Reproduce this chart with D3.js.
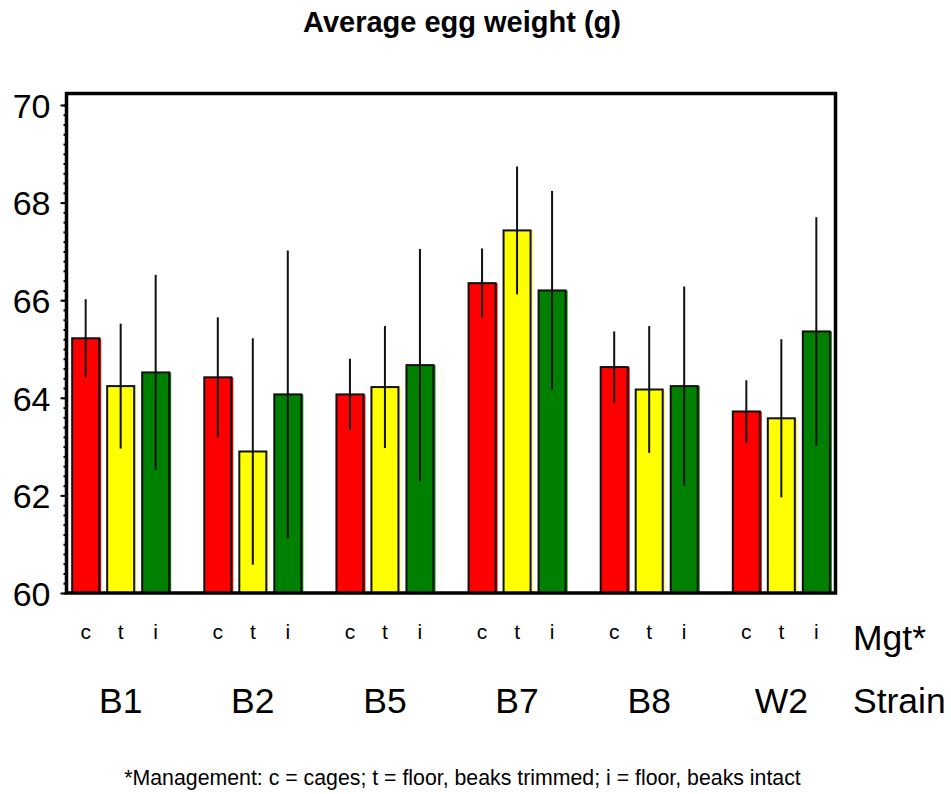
<!DOCTYPE html>
<html>
<head>
<meta charset="utf-8">
<script src="https://cdn.jsdelivr.net/npm/d3@7"></script>
<style>
  html, body { margin: 0; padding: 0; background: #fff; }
  svg { display: block; font-family: "Liberation Sans", Arial, Helvetica, sans-serif; }
</style>
</head>
<body>
<svg id="chart" width="951" height="794"></svg>
<script>
// ---- data ----
const strains = ["B1", "B2", "B5", "B7", "B8", "W2"];
const mgts = ["c", "t", "i"];
const mgtColors = ["#ff0000", "#ffff00", "#008000"];
const meanC = [65.22, 64.42, 64.07, 66.35, 64.63, 63.72];
const meanT = [64.24, 62.90, 64.22, 67.43, 64.17, 63.58];
const meanI = [64.52, 64.07, 64.67, 66.20, 64.24, 65.36];
const errC = [0.80, 1.23, 0.73, 0.71, 0.73, 0.64];
const errT = [1.28, 2.32, 1.25, 1.31, 1.30, 1.62];
const errI = [2.00, 2.95, 2.38, 2.04, 2.04, 2.34];
const yTicks = [60, 62, 64, 66, 68, 70];
const titleText = "Average egg weight (g)";
const mgtAxisLabel = "Mgt*";
const strainAxisLabel = "Strain";
const footnote = "*Management: c = cages; t = floor, beaks trimmed; i = floor, beaks intact";

const means = { c: meanC, t: meanT, i: meanI };
const errs = { c: errC, t: errT, i: errI };
const rows = [];
strains.forEach((s, si) => mgts.forEach((m, mi) => rows.push({
  strain: s, mgt: m, color: mgtColors[mi], mean: means[m][si], err: errs[m][si]
})));

// ---- layout ----
const frame = { left: 66.5, right: 835.5, top: 93.5, bottom: 593 };
const svg = d3.select("#chart");

const y = d3.scaleLinear().domain([60, 70]).range([593, 105]);
const xGroup = d3.scalePoint().domain(strains).range([frame.left, frame.right]).padding(0.41);
const xMgt = d3.scalePoint().domain(mgts).range([-35, 35]);
const barW = 27;

// title
svg.append("text")
  .attr("x", 462).attr("y", 32)
  .attr("text-anchor", "middle")
  .attr("font-size", 29).attr("font-weight", "bold")
  .text(titleText);

// bars: fill (slightly offset) then outline
const bars = svg.append("g");
bars.selectAll("rect.fill").data(rows).join("rect")
  .attr("class", "fill")
  .attr("x", d => xGroup(d.strain) + xMgt(d.mgt) - barW / 2)
  .attr("y", d => y(d.mean))
  .attr("width", barW + 2)
  .attr("height", d => y(60) - y(d.mean))
  .attr("fill", d => d.color);
bars.selectAll("rect.outline").data(rows).join("rect")
  .attr("class", "outline")
  .attr("x", d => xGroup(d.strain) + xMgt(d.mgt) - barW / 2)
  .attr("y", d => y(d.mean))
  .attr("width", barW)
  .attr("height", d => y(60) - y(d.mean))
  .attr("fill", "none")
  .attr("stroke", "#111")
  .attr("stroke-width", 2);

// error bars
svg.append("g").selectAll("line").data(rows).join("line")
  .attr("x1", d => xGroup(d.strain) + xMgt(d.mgt))
  .attr("x2", d => xGroup(d.strain) + xMgt(d.mgt))
  .attr("y1", d => y(d.mean - d.err))
  .attr("y2", d => y(d.mean + d.err))
  .attr("stroke", "#111")
  .attr("stroke-width", 2);

// y axis minor ticks
const minor = d3.range(60, 70.001, 0.2).map(v => +v.toFixed(1));
const yAxisMinor = d3.axisLeft(y).tickValues(minor).tickSize(3).tickFormat("");
svg.append("g").attr("transform", `translate(${frame.left},0)`).call(yAxisMinor)
  .call(g => g.select(".domain").remove())
  .call(g => g.selectAll("line").attr("stroke", "#000").attr("stroke-width", 2));
// y axis major
const yAxis = d3.axisLeft(y).tickValues(yTicks).tickSize(6).tickPadding(10).tickFormat(d3.format("d"));
svg.append("g").attr("transform", `translate(${frame.left},0)`).call(yAxis)
  .call(g => g.select(".domain").remove())
  .call(g => g.selectAll("line").attr("stroke", "#000").attr("stroke-width", 2))
  .call(g => g.selectAll("text")
    .attr("font-size", 34)
    .attr("font-family", "Liberation Sans, Arial, sans-serif")
    .attr("fill", "#000")
    .attr("dy", "0.36em"));

// frame
svg.append("rect")
  .attr("x", frame.left).attr("y", frame.top)
  .attr("width", frame.right - frame.left)
  .attr("height", frame.bottom - frame.top)
  .attr("fill", "none").attr("stroke", "#000").attr("stroke-width", 3.5);

// mgt labels
svg.append("g").selectAll("text").data(rows).join("text")
  .attr("x", d => xGroup(d.strain) + xMgt(d.mgt))
  .attr("y", 639)
  .attr("text-anchor", "middle")
  .attr("font-size", 21)
  .text(d => d.mgt);

// strain labels
svg.append("g").selectAll("text").data(strains).join("text")
  .attr("x", d => xGroup(d))
  .attr("y", 713)
  .attr("text-anchor", "middle")
  .attr("font-size", 35.5)
  .text(d => d);

svg.append("text").attr("x", 853).attr("y", 650).attr("font-size", 35.5).text(mgtAxisLabel);
svg.append("text").attr("x", 853).attr("y", 713).attr("font-size", 35.5).text(strainAxisLabel);

// footnote
svg.append("text")
  .attr("x", 462.5).attr("y", 785)
  .attr("text-anchor", "middle")
  .attr("font-size", 21.3)
  .text(footnote);
</script>
</body>
</html>
